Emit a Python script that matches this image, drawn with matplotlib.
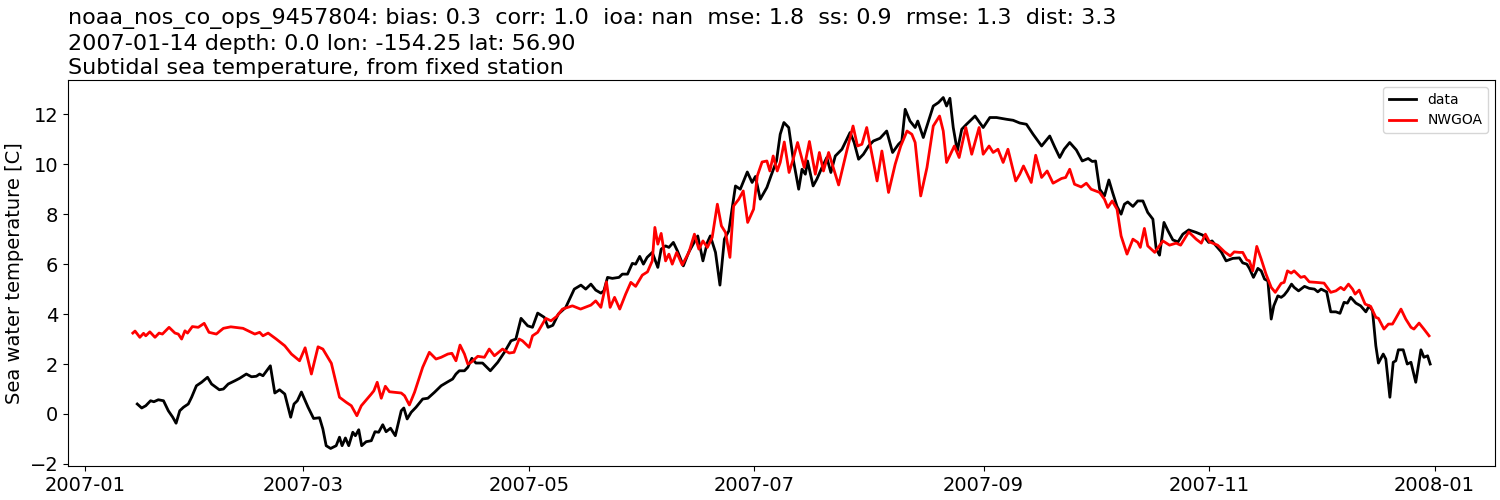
import numpy as np
import pandas as pd
import matplotlib
matplotlib.use("Agg")
import matplotlib.pyplot as plt
import matplotlib.dates as mdates

# days since 2007-01-01, temperature [C]
obs_day = [14.1, 15.3, 16.4, 17.7, 18.6, 19.8, 21.2, 22.5, 23.7, 24.6, 25.6, 26.6, 27.9, 28.8,
           30.1, 31.5, 33.1, 34.2, 36.3, 37.4, 38.7, 40.5, 41.8, 43.6, 45.0, 46.3, 47.2, 48.1,
           50.1, 51.3, 52.6, 54.0, 55.6, 56.5, 57.4, 58.5, 60.3, 61.8, 63.4, 64.3, 65.2, 66.4,
           67.9, 68.8, 69.5, 70.4, 71.3, 72.4, 73.1, 74.0, 74.8, 76.0, 77.4, 78.4, 79.4, 80.5,
           81.4, 82.6, 83.9, 85.5, 86.2, 87.1, 88.2, 89.5, 91.3, 92.7, 94.5, 96.3, 98.1, 99.4,
           100.3, 101.2, 102.6, 103.5, 104.6, 105.7, 107.5, 109.6, 111.6, 113.4, 115.2, 116.5,
           117.9, 119.7, 121.0, 122.4, 124.2, 125.2, 126.5, 128.0, 130.0, 132.3, 134.1, 135.4,
           136.8, 138.1, 139.5, 140.3, 141.3, 142.6, 144.4, 145.3, 146.7, 148.0, 148.9, 150.0,
           151.0, 152.0, 153.4, 154.9, 155.8, 157.0, 157.9, 159.1, 160.2, 161.8, 163.3, 165.7,
           167.1, 168.3, 169.1, 170.5, 171.7, 172.9, 174.1, 175.9, 177.2, 179.1, 180.4, 181.3,
           182.6, 184.4, 185.5, 187.0, 188.0, 189.0, 190.3, 191.6, 193.0, 193.9, 194.8, 195.4,
           196.9, 197.9, 199.3, 200.6, 201.7, 202.9, 204.7, 206.9, 208.0, 209.2, 210.5, 211.9,
           213.2, 215.0, 216.8, 218.4, 220.0, 220.9, 221.8, 223.1, 224.5, 225.2, 226.7, 228.1,
           229.4, 230.8, 232.1, 233.0, 233.9, 234.8, 235.9, 237.1, 238.4, 240.7, 242.9, 244.7,
           246.5, 249.2, 251.0, 252.8, 254.6, 256.4, 258.7, 260.9, 262.3, 263.6, 264.8, 266.3,
           268.1, 269.7, 271.3, 272.4, 273.3, 274.4, 275.7, 276.9, 277.9, 279.1, 280.2, 281.1,
           282.0, 283.4, 284.7, 286.1, 287.4, 288.8, 289.7, 290.6, 291.8, 292.9, 294.2, 295.6,
           296.9, 298.5, 300.5, 302.3, 303.9, 304.8, 305.9, 307.3, 308.6, 310.4, 312.2, 313.1,
           314.2, 314.9, 316.0, 317.2, 318.1, 319.0, 319.9, 320.8, 321.5, 322.6, 323.5, 324.3,
           325.2, 326.3, 327.0, 328.2, 329.8, 331.1, 332.5, 333.4, 334.3, 335.8, 336.9, 338.3,
           339.4, 340.5, 341.4, 342.3, 343.7, 345.0, 346.4, 347.3, 348.2, 349.1, 349.8, 351.1,
           351.8, 352.9, 353.8, 354.5, 355.2, 356.5, 357.6, 358.6, 359.9, 361.3, 362.1, 363.1,
           363.8]
obs_temp = [0.40, 0.24, 0.33, 0.53, 0.49, 0.57, 0.53, 0.13, -0.13, -0.37, 0.13, 0.27, 0.40, 0.67,
            1.13, 1.27, 1.47, 1.20, 0.97, 1.00, 1.20, 1.33, 1.43, 1.60, 1.49, 1.51, 1.60, 1.53,
            1.93, 0.84, 0.97, 0.80, -0.13, 0.40, 0.53, 0.88, 0.27, -0.18, -0.15, -0.60, -1.27, -1.38,
            -1.27, -0.93, -1.27, -0.96, -1.27, -0.73, -0.87, -0.63, -1.27, -1.11, -1.07, -0.71, -0.73, -0.43,
            -0.71, -0.57, -0.87, 0.13, 0.24, -0.20, 0.07, 0.27, 0.60, 0.63, 0.87, 1.13, 1.29, 1.40,
            1.60, 1.73, 1.73, 1.87, 2.23, 2.04, 2.04, 1.73, 2.07, 2.47, 2.93, 3.00,
            3.83, 3.53, 3.47, 4.04, 3.87, 3.47, 3.55, 4.00, 4.27, 5.00, 5.16, 5.00,
            5.20, 4.96, 4.84, 4.93, 5.47, 5.43, 5.47, 5.60, 5.60, 6.03, 6.00, 6.31,
            6.00, 6.27, 6.47, 5.87, 6.60, 6.73, 6.67, 6.87, 6.53, 5.93, 6.49, 7.13,
            6.13, 6.87, 7.13, 6.47, 5.16, 7.00, 7.33, 9.13, 9.00, 9.69, 9.27, 9.51,
            8.60, 9.07, 9.53, 10.13, 11.20, 11.67, 11.47, 10.13, 9.00, 9.80, 9.60, 10.13,
            9.13, 9.40, 9.87, 10.27, 9.67, 10.33, 10.60, 11.27, 10.87, 10.20, 10.40, 10.73,
            10.93, 11.04, 11.33, 10.47, 10.80, 10.93, 12.20, 11.73, 11.47, 11.73, 11.07, 11.73,
            12.33, 12.47, 12.67, 12.33, 12.64, 11.47, 10.53, 11.40, 11.60, 11.93, 11.47, 11.87,
            11.87, 11.80, 11.76, 11.65, 11.60, 11.20, 10.73, 11.13, 10.67, 10.27, 10.60, 10.87,
            10.57, 10.13, 10.23, 10.11, 10.13, 9.00, 8.73, 9.37, 8.87, 8.31, 8.00, 8.40,
            8.49, 8.31, 8.53, 8.53, 8.07, 7.80, 6.60, 6.36, 7.67, 7.33, 6.97, 6.89,
            7.20, 7.37, 7.27, 7.16, 6.87, 6.93, 6.73, 6.49, 6.13, 6.23, 6.25, 6.05,
            6.00, 5.83, 5.47, 5.83, 5.73, 5.40, 5.33, 3.80, 4.33, 4.73, 4.67, 4.76,
            4.93, 5.20, 5.07, 4.93, 5.11, 5.03, 5.00, 4.89, 5.00, 4.89, 4.09, 4.09,
            4.03, 4.47, 4.44, 4.67, 4.44, 4.33, 4.09, 4.33, 4.13, 2.73, 2.04, 2.40,
            2.20, 0.67, 2.07, 2.13, 2.57, 2.57, 2.00, 2.07, 1.27, 2.57, 2.27, 2.33,
            2.00]

mod_day = [12.9, 13.5, 14.8, 15.8, 16.4, 17.5, 18.9, 20.0, 20.9, 22.7, 24.3, 25.2, 26.1, 27.0,
           27.7, 29.0, 30.6, 32.2, 33.5, 35.5, 37.4, 39.4, 42.7, 45.9, 47.2, 48.1, 49.5, 51.7,
           54.0, 55.8, 58.0, 59.5, 61.2, 63.0, 64.3, 66.6, 68.8, 70.6, 72.0, 73.5, 74.7, 77.4,
           78.1, 79.0, 80.1, 81.2, 82.3, 85.5, 86.4, 87.7, 89.1, 91.3, 93.1, 94.9, 96.3, 98.1,
           99.2, 100.3, 101.4, 102.6, 103.5, 104.4, 106.2, 108.0, 109.3, 110.7, 112.9, 114.7,
           116.0, 117.4, 118.3, 120.1, 121.0, 122.4, 124.6, 126.0, 127.5, 129.1, 131.8, 134.0,
           136.8, 138.1, 139.5, 141.0, 142.0, 143.2, 144.6, 146.2, 147.6, 148.9, 150.7, 152.1,
           153.4, 154.1, 154.9, 155.8, 157.0, 157.9, 158.8, 160.0, 161.5, 163.3, 164.8, 166.0,
           167.1, 168.3, 169.6, 171.0, 172.1, 173.2, 174.4, 175.4, 176.8, 178.0, 179.2, 180.8,
           181.8, 183.1, 184.4, 185.2, 186.1, 187.2, 188.0, 189.1, 190.4, 191.5, 192.7, 194.5,
           195.9, 197.5, 198.6, 199.7, 201.1, 203.8, 206.0, 207.7, 208.9, 210.1, 211.4, 214.2,
           215.5, 217.3, 219.1, 220.6, 222.3, 223.6, 224.5, 226.0, 227.7, 229.4, 231.1, 232.1,
           233.0, 235.1, 236.4, 238.2, 239.8, 241.8, 242.9, 244.5, 245.6, 246.9, 248.3, 249.6,
           251.7, 252.8, 253.8, 255.9, 257.1, 258.7, 260.2, 261.8, 264.1, 265.2, 266.3, 267.6,
           269.4, 270.8, 272.1, 274.4, 275.7, 276.6, 277.8, 279.1, 280.2, 281.8, 283.4, 284.7,
           285.4, 286.5, 287.4, 289.3, 291.5, 293.3, 295.1, 296.3, 298.5, 300.5, 301.9, 303.0,
           304.1, 306.3, 308.2, 309.7, 310.8, 312.2, 313.1, 314.2, 314.9, 315.8, 316.9, 318.1,
           319.4, 320.8, 321.9, 323.5, 324.3, 325.2, 326.2, 327.0, 328.8, 329.8, 331.1, 332.9,
           335.1, 336.9, 338.3, 339.6, 340.5, 341.7, 342.8, 343.5, 344.6, 346.2, 347.7, 349.1,
           349.8, 351.3, 352.5, 353.6, 354.5, 355.9, 357.2, 358.6, 359.4, 360.8, 362.1, 363.5]
mod_temp = [3.24, 3.32, 3.07, 3.23, 3.13, 3.29, 3.07, 3.24, 3.20, 3.47, 3.24, 3.20, 3.00, 3.33,
            3.24, 3.50, 3.47, 3.63, 3.27, 3.20, 3.43, 3.49, 3.43, 3.20, 3.27, 3.13, 3.24, 3.00,
            2.73, 2.40, 2.13, 2.65, 1.60, 2.69, 2.60, 2.03, 0.67, 0.47, 0.33, -0.07, 0.33, 0.80,
            0.93, 1.27, 0.63, 1.11, 0.89, 0.84, 0.73, 0.36, 0.87, 1.87, 2.47, 2.20, 2.27, 2.40,
            2.43, 2.13, 2.76, 2.40, 2.00, 2.07, 2.31, 2.27, 2.60, 2.33, 2.60, 2.44,
            2.47, 3.00, 2.93, 2.67, 3.13, 3.27, 3.83, 3.73, 3.90, 4.20, 4.33, 4.20,
            4.36, 4.53, 4.27, 5.29, 4.27, 4.67, 4.20, 4.80, 5.27, 5.11, 5.56, 5.69,
            6.13, 7.47, 6.80, 7.23, 6.13, 6.40, 6.00, 6.47, 5.97, 6.47, 7.20, 6.60,
            6.93, 6.67, 7.07, 8.40, 7.53, 7.27, 6.27, 8.33, 8.60, 8.93, 7.67, 8.20,
            9.53, 10.09, 10.13, 9.73, 10.33, 9.73, 10.07, 10.89, 9.67, 10.20, 10.87, 9.87,
            10.91, 9.60, 10.47, 9.73, 10.47, 9.17, 10.53, 11.53, 10.73, 10.80, 11.47, 9.33,
            10.53, 8.87, 10.00, 10.73, 11.33, 11.20, 10.87, 8.73, 9.87, 11.53, 11.93, 11.33,
            10.07, 10.73, 10.27, 11.47, 10.40, 11.47, 10.40, 10.73, 10.47, 10.60, 10.07, 10.60,
            9.33, 9.60, 9.93, 9.27, 10.36, 9.47, 9.73, 9.24, 9.43, 9.47, 9.80, 9.20,
            9.09, 9.24, 9.00, 8.87, 8.60, 8.27, 8.53, 8.20, 7.13, 6.40, 7.00, 6.87,
            6.67, 7.43, 6.73, 6.47, 6.93, 6.76, 6.84, 6.76, 7.29, 7.00, 6.84, 7.20,
            6.89, 6.76, 6.49, 6.33, 6.49, 6.47, 6.47, 6.17, 6.13, 5.73, 6.71, 6.20,
            5.60, 5.07, 4.87, 5.23, 5.27, 5.73, 5.64, 5.73, 5.47, 5.51, 5.29, 5.27,
            5.24, 4.87, 4.93, 5.07, 4.97, 5.20, 5.00, 4.80, 4.96, 4.40, 4.31, 3.87,
            3.83, 3.40, 3.60, 3.60, 3.83, 4.20, 3.80, 3.47, 3.40, 3.64, 3.40, 3.13]

title_lines = [
    "noaa_nos_co_ops_9457804: bias: 0.3  corr: 1.0  ioa: nan  mse: 1.8  ss: 0.9  rmse: 1.3  dist: 3.3",
    "2007-01-14 depth: 0.0 lon: -154.25 lat: 56.90",
    "Subtidal sea temperature, from fixed station",
]

start = pd.Timestamp("2007-01-01")
obs_t = start + pd.to_timedelta(obs_day, unit="D")
mod_t = start + pd.to_timedelta(mod_day, unit="D")

fig, ax = plt.subplots(figsize=(15, 5), dpi=100)
ax.plot(obs_t, obs_temp, color="black", lw=2, label="data")
ax.plot(mod_t, mod_temp, color="red", lw=2, label="NWGOA")

ax.set_title("\n".join(title_lines), loc="left", fontsize=16,
             linespacing=1.3, pad=4)
ax.set_ylabel("Sea water temperature [C]", fontsize=14)
ax.xaxis.set_major_locator(mdates.MonthLocator(bymonth=[1, 3, 5, 7, 9, 11]))
ax.xaxis.set_major_formatter(mdates.DateFormatter("%Y-%m"))
ax.tick_params(labelsize=14)
ax.legend(loc="upper right", fontsize=10)

plt.subplots_adjust(left=0.0453, right=0.9967, top=0.84, bottom=0.068)
plt.savefig("out.png")
